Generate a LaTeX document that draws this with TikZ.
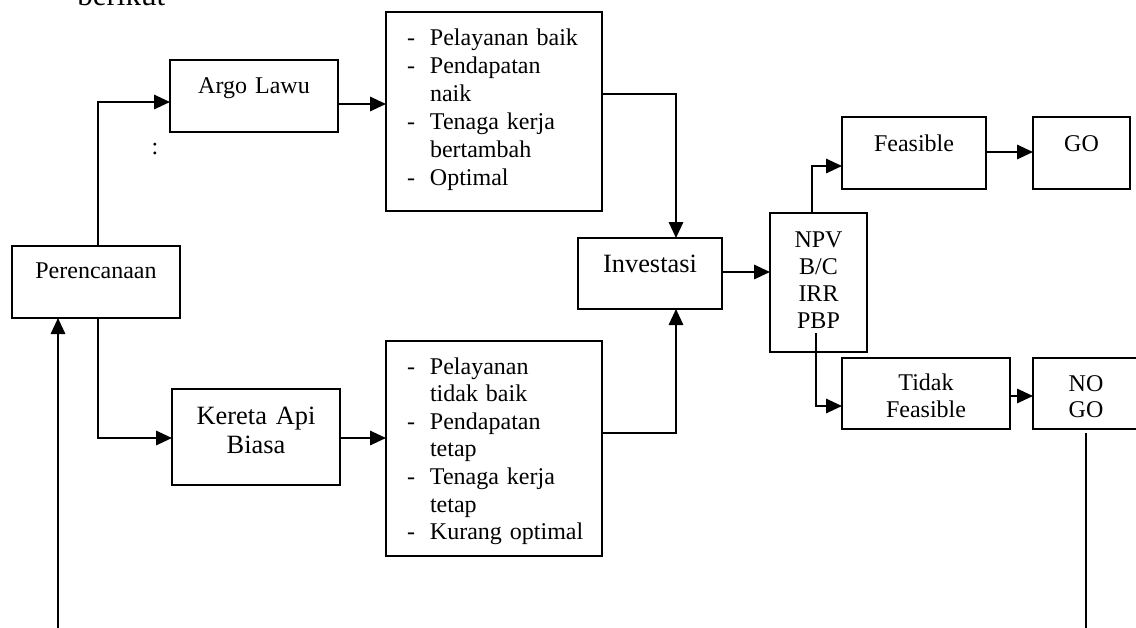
\documentclass[tikz,border=0pt]{standalone}
\usepackage{fontspec}
\setmainfont{Liberation Serif}
\usetikzlibrary{arrows.meta}
\newcommand{\dashitem}[1]{\hspace*{10.5pt}\makebox[11.5pt][l]{-}#1}
\newcommand{\contline}[1]{\hspace*{22pt}#1}
\tikzset{
  box/.style={draw, line width=1pt, inner sep=0pt, outer sep=0pt, anchor=north west, align=center},
  conn/.style={line width=1pt, -{Triangle[length=8pt,width=7.2pt]}},
  plain/.style={line width=1pt},
  ftw/.style={font=\fontsize{12}{13.8}\selectfont},
  fbig/.style={font=\fontsize{13.2}{14.5}\selectfont},
}
\begin{document}
\begin{tikzpicture}[x=0.5pt, y=-0.5pt]
\useasboundingbox (0,0) rectangle (1136,627);
\clip (0,0) rectangle (1136,627);

\node[anchor=base west, inner sep=0pt, font=\fontsize{15.5}{18}\selectfont] (ber) at (77,5.5) {berikut};
\node[anchor=base, inner sep=0pt, ftw] (colon) at (155,154) {:};

% boxes
\node[box, ftw, text width=84pt, text height=16pt, text depth=20pt] (per) at (12,246) {Perencanaan};
\node[box, ftw, text width=84pt, text height=16.5pt, text depth=19.5pt] (argo) at (170,60) {Argo Lawu};
\node[box, font=\fontsize{12}{14}\selectfont, align=left, text width=108pt, text height=16.5pt, text depth=83pt] (listA) at (386,12)
  {\dashitem{Pelayanan baik}\\\dashitem{Pendapatan}\\\contline{naik}\\\dashitem{Tenaga kerja}\\\contline{bertambah}\\\dashitem{Optimal}};
\node[box, fbig, text width=84pt, text height=17.5pt, text depth=30.5pt] (kereta) at (172,389) {Kereta Api\\Biasa};
\node[box, font=\fontsize{12}{13.8}\selectfont, align=left, text width=108pt, text height=16.5pt, text depth=91pt] (listB) at (386,341)
  {\dashitem{Pelayanan}\\\contline{tidak baik}\\\dashitem{Pendapatan}\\\contline{tetap}\\\dashitem{Tenaga kerja}\\\contline{tetap}\\\dashitem{Kurang optimal}};
\node[box, fbig, text width=72pt, text height=17pt, text depth=18.5pt] (inv) at (578,238) {Investasi};
\node[box, font=\fontsize{12}{13.6}\selectfont, text width=48.5pt, text height=17pt, text depth=52.5pt] (npv) at (770,213) {NPV\\B/C\\IRR\\PBP};
\node[box, ftw, text width=72pt, text height=17pt, text depth=19pt] (feas) at (842,117) {Feasible};
\node[box, ftw, text width=48.5pt, text height=17pt, text depth=19pt] (go) at (1033,117) {GO};
\node[box, font=\fontsize{12}{13.5}\selectfont, text width=84pt, text height=16pt, text depth=19.5pt] (tidak) at (842,358) {Tidak\\Feasible};
\node[box, font=\fontsize{12}{13.2}\selectfont, text width=53pt, text height=16.5pt, text depth=19pt] (nogo) at (1033,358) {NO\\GO};

% helper coordinates
\coordinate (c1) at (98,102);
\coordinate (c2) at (98,438);
\coordinate (c3) at (0,104);
\coordinate (c4) at (676,94);
\coordinate (c5) at (0,438);
\coordinate (c6) at (676,433);
\coordinate (c7) at (0,272);
\coordinate (c8) at (812,166);
\coordinate (c9) at (0,152);
\coordinate (c10) at (816,333);
\coordinate (c10b) at (816,406);
\coordinate (c11) at (0,396);
\coordinate (c12) at (1086,433);
\coordinate (c12b) at (1086,632);
\coordinate (c13) at (58,632);

% connectors
\draw[conn] (per.north -| c1) |- (argo.west |- c1);
\draw[conn] (per.south -| c2) |- (kereta.west |- c2);
\draw[conn] (argo.east |- c3) -- (listA.west |- c3);
\draw[conn] (listA.east |- c4) -| (inv.north -| c4);
\draw[conn] (kereta.east |- c5) -- (listB.west |- c5);
\draw[conn] (listB.east |- c6) -| (inv.south -| c6);
\draw[conn] (inv.east |- c7) -- (npv.west |- c7);
\draw[conn] (npv.north -| c8) |- (feas.west |- c8);
\draw[conn] (feas.east |- c9) -- (go.west |- c9);
\draw[conn] (c10) |- (tidak.west |- c10b);
\draw[conn] (tidak.east |- c11) -- (nogo.west |- c11);
\draw[plain] (c12) -- (c12b);
\draw[conn] (c13) -- (per.south -| c13);
\end{tikzpicture}
\end{document}
